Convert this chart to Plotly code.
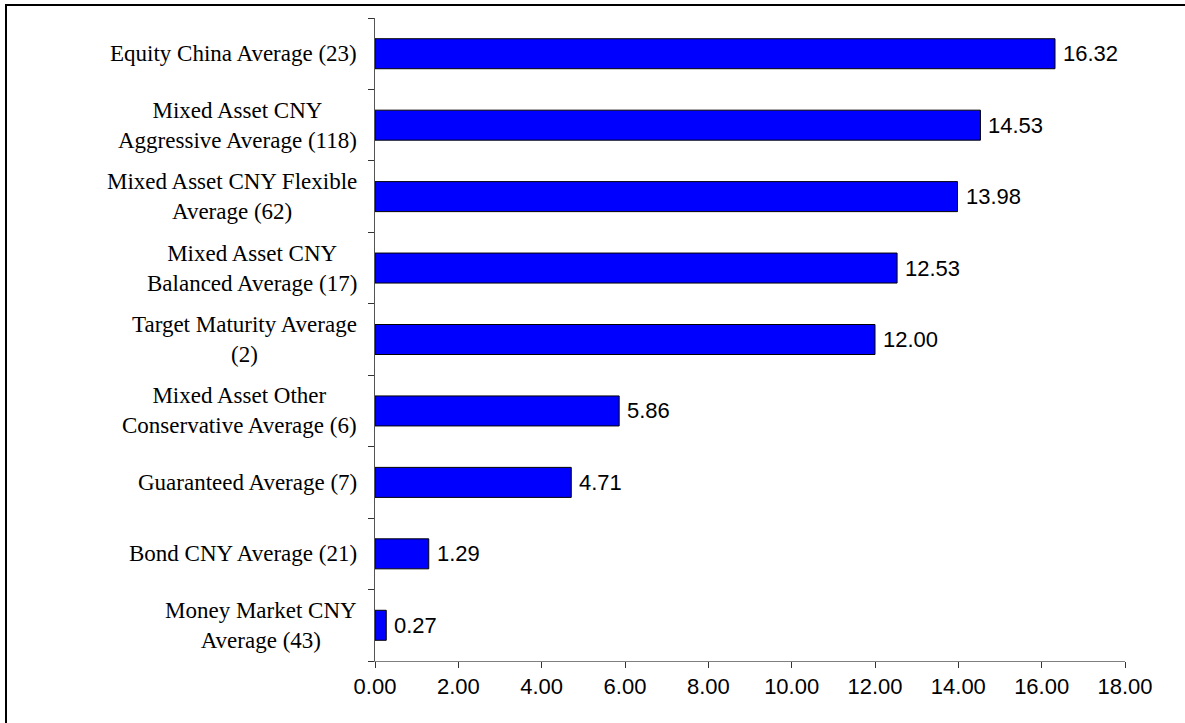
import plotly.graph_objects as go

categories = [
    "Equity China Average (23)",
    "Mixed Asset CNY<br>Aggressive Average (118)",
    "Mixed Asset CNY Flexible<br>Average (62)",
    "Mixed Asset CNY<br>Balanced Average (17)",
    "Target Maturity Average<br>(2)",
    "Mixed Asset Other<br>Conservative Average (6)",
    "Guaranteed Average (7)",
    "Bond CNY Average (21)",
    "Money Market CNY<br>Average (43)",
]
values = [16.32, 14.53, 13.98, 12.53, 12.00, 5.86, 4.71, 1.29, 0.27]
x_ticks = [0, 2, 4, 6, 8, 10, 12, 14, 16, 18]

W, H = 1185, 723
ML, MR, MT, MB = 375, 60, 18, 62
pw, ph = W - ML - MR, H - MT - MB

fig = go.Figure(go.Bar(
    x=values,
    y=list(range(len(categories))),
    orientation="h",
    marker=dict(color="#0000FF", line=dict(color="#000000", width=1)),
    hoverinfo="skip",
))

annotations = []
for i, c in enumerate(categories):
    annotations.append(dict(
        x=0, xref="paper", y=i, yref="y",
        text=c, showarrow=False, xanchor="right", yanchor="middle",
        align="center", xshift=-16,
        font=dict(family="Liberation Serif, Times New Roman", size=23, color="#000000"),
    ))

for i, v in enumerate(values):
    annotations.append(dict(
        x=v, xref="x", y=i, yref="y",
        text=f"{v:.2f}", showarrow=False, xanchor="left", yanchor="middle",
        xshift=6,
        font=dict(family="Liberation Sans, Arial", size=22, color="#000000"),
    ))

def px_to_paper_x(px):
    return (px - ML) / pw

def px_to_paper_y(py):
    return (H - MB - py) / ph

fig.update_layout(
    width=W, height=H,
    margin=dict(l=ML, r=MR, t=MT, b=MB),
    paper_bgcolor="white", plot_bgcolor="white",
    showlegend=False,
    bargap=0.58,
    annotations=annotations,
    shapes=[dict(
        type="rect", xref="paper", yref="paper",
        x0=px_to_paper_x(6), x1=px_to_paper_x(1195),
        y0=px_to_paper_y(735), y1=px_to_paper_y(5),
        line=dict(color="#000000", width=2), fillcolor="rgba(0,0,0,0)",
        layer="below",
    )],
    xaxis=dict(
        range=[0, 18], tickvals=x_ticks, tickformat=".2f",
        showgrid=False, zeroline=False,
        showline=True, linecolor="#808080", linewidth=1,
        ticks="outside", ticklen=6, tickcolor="#333333",
        tickfont=dict(family="Liberation Sans, Arial", size=22, color="#000000"),
        fixedrange=True,
    ),
    yaxis=dict(
        type="linear", range=[len(categories) - 0.5, -0.5],
        tickvals=[i - 0.5 for i in range(len(categories) + 1)],
        showticklabels=False,
        showgrid=False, zeroline=False,
        showline=True, linecolor="#555555", linewidth=1,
        ticks="outside", ticklen=6, tickcolor="#333333",
        fixedrange=True,
    ),
)

fig.write_html("out.html")
